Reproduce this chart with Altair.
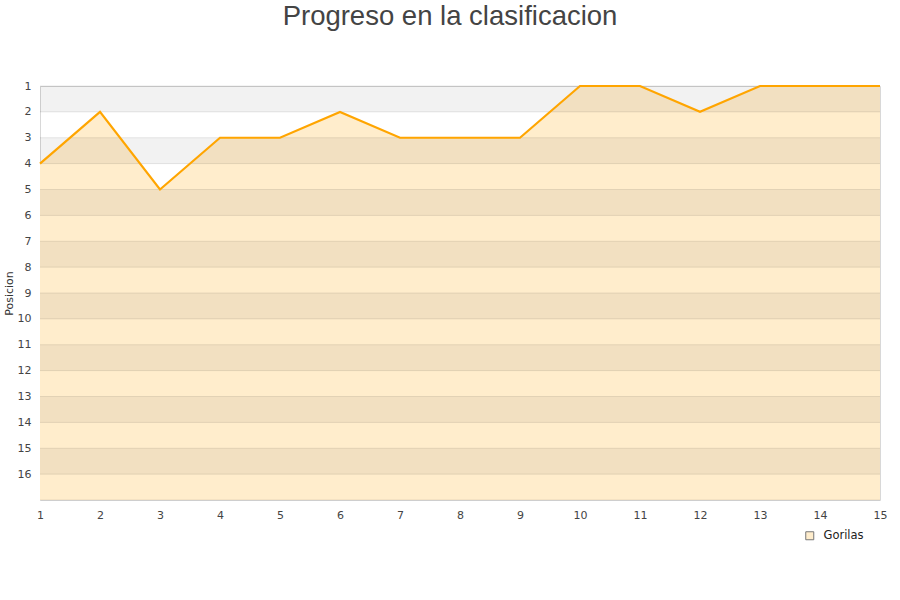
import altair as alt
import pandas as pd

# Team standing after each matchday
jornadas = list(range(1, 16))
posiciones = [4, 2, 5, 3, 3, 2, 3, 3, 3, 1, 1, 2, 1, 1, 1]
equipo = "Gorilas"

# Axis ticks and the alternating background bands
posiciones_eje = list(range(1, 17))
banda_inicio = [1, 3, 5, 7, 9, 11, 13, 15]
banda_fin = [2, 4, 6, 8, 10, 12, 14, 16]
fondo = 17

serie = pd.DataFrame({"jornada": jornadas, "posicion": posiciones,
                      "equipo": [equipo] * len(jornadas), "fondo": [fondo] * len(jornadas)})
bandas = pd.DataFrame({"y0": banda_inicio, "y1": banda_fin,
                       "x0": [jornadas[0]] * len(banda_inicio),
                       "x1": [jornadas[-1]] * len(banda_inicio)})
rejilla = pd.DataFrame({"posicion": posiciones_eje + [fondo]})

x_scale = alt.Scale(domain=[jornadas[0], jornadas[-1]], nice=False, zero=False)
y_scale = alt.Scale(domain=[1, fondo], nice=False, zero=False, reverse=True)

x_axis = alt.Axis(values=jornadas, format="d", title=None, ticks=False, domain=False,
                  grid=False, labelPadding=9, labelFont="DejaVu Sans", labelFontSize=11,
                  labelColor="#444", labelFlush=False, labelOverlap=False)
y_axis = alt.Axis(values=posiciones_eje, format="d", title="Posicion", ticks=False,
                  domain=False, grid=False, labelPadding=9, labelFont="DejaVu Sans",
                  labelFontSize=11, labelColor="#444", labelOverlap=False, labelFlush=False,
                  titleFont="DejaVu Sans", titleFontSize=11, titleFontWeight="normal",
                  titleColor="#333", titlePadding=3)

# Filled region under the standing line
capa_area = alt.Chart(serie).mark_area(interpolate="linear").encode(
    x=alt.X("jornada:Q", scale=x_scale, axis=x_axis),
    y=alt.Y("posicion:Q", scale=y_scale, axis=y_axis),
    y2="fondo:Q",
    fill=alt.Fill("equipo:N", scale=alt.Scale(range=["#FFEDCC"]),
                  legend=alt.Legend(title=None, orient="none", legendX=764, legendY=444,
                                    symbolType="square", symbolSize=64,
                                    symbolStrokeColor="#777", symbolStrokeWidth=1,
                                    symbolOpacity=1, labelOffset=8,
                                    labelFont="DejaVu Sans", labelFontSize=11.5,
                                    labelColor="#222")),
)

# Translucent alternating bands across the whole plot
capa_bandas = alt.Chart(bandas).mark_rect(color="#000000", opacity=0.05).encode(
    x=alt.X("x0:Q", scale=x_scale, axis=x_axis),
    x2="x1:Q",
    y=alt.Y("y0:Q", scale=y_scale, axis=y_axis),
    y2="y1:Q",
)

capa_rejilla = alt.Chart(rejilla).mark_rule(color="#000000", opacity=0.09, strokeWidth=1).encode(
    y=alt.Y("posicion:Q", scale=y_scale, axis=y_axis),
)

capa_linea = alt.Chart(serie).mark_line(color="#FFA500", strokeWidth=2.2).encode(
    x=alt.X("jornada:Q", scale=x_scale, axis=x_axis),
    y=alt.Y("posicion:Q", scale=y_scale, axis=y_axis),
)

chart = alt.layer(capa_area, capa_bandas, capa_rejilla, capa_linea).properties(
    width=840,
    height=414,
    title=alt.TitleParams("Progreso en la clasificacion", font="Liberation Sans",
                          fontSize=27.5, fontWeight="normal", color="#444",
                          anchor="middle", offset=50, dx=-10),
    autosize=alt.AutoSizeParams(type="none"),
    padding={"left": 40, "top": 86, "right": 20, "bottom": 100},
).configure_view(stroke="#D8D8D8", strokeWidth=1)

chart.save("out.html", embed_options={"renderer": "svg", "actions": False})
